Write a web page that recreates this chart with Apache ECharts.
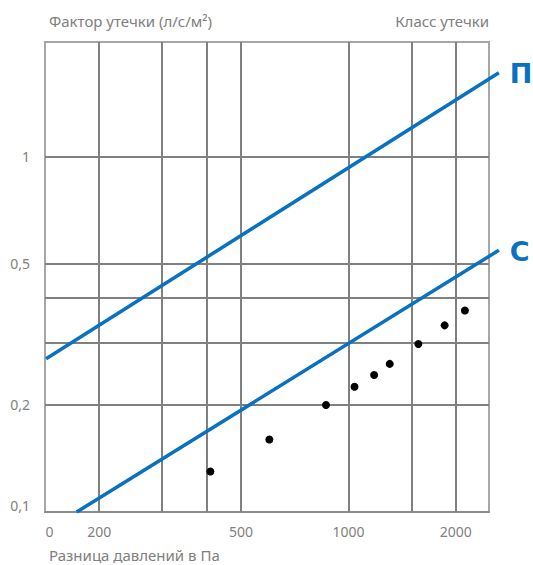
<!DOCTYPE html>
<html>
<head>
<meta charset="utf-8">
<script src="https://cdn.jsdelivr.net/npm/echarts@6/dist/echarts.min.js"></script>
<style>
  html, body { margin: 0; padding: 0; background: #fff; }
  #chart { width: 533px; height: 565px; }
</style>
</head>
<body>
<div id="chart"></div>
<script>
// Pressure difference (Pa) and leakage factor (l/s/m²) — log-log chart
const xMin = 141, xMax = 2477;
const yMin = 0.1, yMax = 2.1;

const xTickLabels = [141.5, 200, 500, 1000, 2000];
const xGridValues = [200, 300, 400, 500, 1000, 1500, 2000];
const yTickLabels = [0.1, 0.2, 0.5, 1];
const yGridValues = [0.2, 0.3, 0.4, 0.5, 1];

// Measured points
const pressure = [410, 600, 865, 1040, 1180, 1305, 1570, 1860, 2120];
const leakage  = [0.13, 0.16, 0.2, 0.225, 0.243, 0.261, 0.297, 0.335, 0.369];

// Leakage class limit lines: [x start, y start, x end, y end]
const classNames = ['П', 'С'];
const classP = [142, 0.27, 2640, 1.72];
const classC = [173, 0.1, 2640, 0.545];

const gray = '#808080';
const blue = '#0871c0';
const font = 'Noto Sans';

const chart = echarts.init(document.getElementById('chart'), null, { renderer: 'svg' });

const titleStyle = { fontSize: 15, fontWeight: 'normal', color: gray, fontFamily: font };

chart.setOption({
  animation: false,
  textStyle: { fontFamily: font },
  title: [
    { text: 'Фактор утечки (л/с/м²)', left: 49, top: 13, padding: 0, textStyle: titleStyle },
    { text: 'Класс утечки', right: 44, top: 13, padding: 0, textStyle: titleStyle },
    { text: 'Разница давлений в Па', left: 49, top: 547, padding: 0, textStyle: titleStyle }
  ],
  grid: {
    left: 45, right: 44, top: 42, bottom: 53,
    show: true, borderColor: '#a6a6a6', borderWidth: 2,
    outerBoundsMode: 'none'
  },
  xAxis: {
    type: 'log', logBase: 10, min: xMin, max: xMax,
    axisLine: { show: true, lineStyle: { color: '#8c8c8c', width: 2 } },
    axisTick: { show: false },
    splitLine: { show: false },
    minorTick: { show: false },
    axisLabel: {
      customValues: xTickLabels,
      formatter: v => (v < 150 ? '0' : String(Math.round(v))),
      color: gray, fontSize: 14, fontFamily: font, margin: 12,
      alignMinLabel: 'left'
    }
  },
  yAxis: {
    type: 'log', logBase: 10, min: yMin, max: yMax,
    axisLine: { show: false },
    axisTick: { show: false },
    splitLine: { show: false },
    axisLabel: {
      customValues: yTickLabels,
      formatter: v => String(Math.round(v * 10) / 10).replace('.', ','),
      color: gray, fontSize: 14, fontFamily: font, margin: 15,
      verticalAlignMinLabel: 'bottom'
    }
  },
  series: [
    {
      type: 'scatter',
      data: pressure.map((p, i) => [p, leakage[i]]),
      symbolSize: 8,
      itemStyle: { color: '#000', opacity: 1 },
      silent: true,
      z: 6,
      markLine: {
        silent: true,
        symbol: 'none',
        label: { show: false },
        lineStyle: { color: gray, width: 2, type: 'solid' },
        emphasis: { disabled: true },
        data: xGridValues.map(v => ({ xAxis: v }))
          .concat(yGridValues.map(v => ({ yAxis: v })))
      }
    },
    {
      // class limit lines run a little past the frame, with the class letter at the end
      type: 'custom',
      coordinateSystem: 'cartesian2d',
      clip: false,
      silent: true,
      z: 5,
      encode: { x: [0, 2], y: [1, 3] },
      data: [classP, classC],
      renderItem: (params, api) => {
        const a = api.coord([api.value(0), api.value(1)]);
        const b = api.coord([api.value(2), api.value(3)]);
        return {
          type: 'group',
          children: [
            {
              type: 'line',
              shape: { x1: a[0], y1: a[1], x2: b[0], y2: b[1] },
              style: { stroke: blue, lineWidth: 3.5, lineCap: 'butt' }
            },
            {
              type: 'text',
              x: b[0] + 11,
              y: b[1] + 1,
              style: {
                text: classNames[params.dataIndex],
                fill: blue,
                font: 'bold 27px "DejaVu Sans"',
                verticalAlign: 'middle',
                align: 'left'
              }
            }
          ]
        };
      }
    }
  ]
});
</script>
</body>
</html>
